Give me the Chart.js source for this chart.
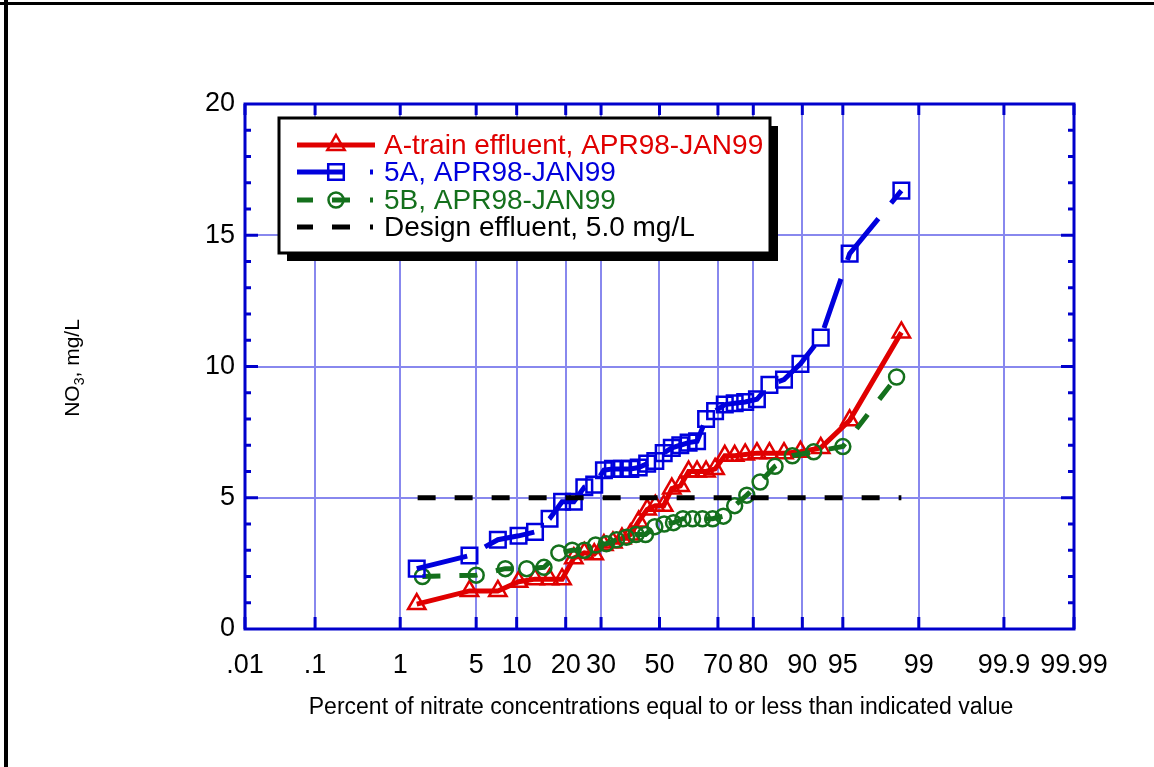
<!DOCTYPE html>
<html>
<head>
<meta charset="utf-8">
<script src="https://cdn.jsdelivr.net/npm/chart.js@4/dist/chart.umd.min.js"></script>
<style>
  html, body { margin: 0; padding: 0; background: #fff; }
  #wrap { width: 1154px; height: 767px; position: relative; }
</style>
</head>
<body>
<div id="wrap"><canvas id="myChart" width="1154" height="767"></canvas></div>
<script>
// Probability axis: tick positions (percent) and their labels
const pctTicks = [0.01, 0.1, 1, 5, 10, 20, 30, 50, 70, 80, 90, 95, 99, 99.9, 99.99];
const pctLabels = ['.01', '.1', '1', '5', '10', '20', '30', '50', '70', '80', '90', '95', '99', '99.9', '99.99'];
const yTicks = [0, 5, 10, 15, 20];

// A-train effluent (percent, NO3 mg/L)
const aTrainPct = [1.47, 4.41, 7.35, 10.3, 13.2, 16.2, 19.1, 22.1, 25.0, 27.9, 30.9, 33.8, 36.8, 39.7, 42.6, 45.6, 48.5,
  51.5, 54.4, 57.4, 60.3, 63.2, 66.2, 69.1, 72.1, 75.0, 77.9, 80.9, 83.8, 86.8, 89.7, 92.6, 95.6, 98.5];
const aTrainVal = [0.95, 1.45, 1.45, 1.8, 1.9, 1.9, 1.9, 2.7, 2.9, 2.85, 3.2, 3.3, 3.45, 3.6, 4.1, 4.55, 4.7,
  4.7, 5.35, 5.45, 6.0, 6.0, 6.0, 6.1, 6.6, 6.6, 6.65, 6.7, 6.7, 6.7, 6.75, 6.9, 7.95, 11.3];

// 5A
const s5aPct = [1.47, 4.41, 7.35, 10.3, 13.2, 16.2, 19.1, 22.1, 25.0, 27.9, 30.9, 33.8, 36.8, 39.7, 42.6, 45.6, 48.5,
  51.5, 54.4, 57.4, 60.3, 63.2, 66.2, 69.1, 72.1, 75.0, 77.9, 80.9, 83.8, 86.8, 89.7, 92.6, 95.6, 98.5];
const s5aVal = [2.3, 2.8, 3.4, 3.55, 3.7, 4.2, 4.85, 4.85, 5.4, 5.5, 6.05, 6.1, 6.1, 6.1, 6.15, 6.3, 6.4,
  6.7, 6.9, 7.0, 7.1, 7.15, 8.0, 8.3, 8.55, 8.6, 8.65, 8.75, 9.3, 9.5, 10.1, 11.1, 14.3, 16.7];

// 5B
const s5bPct = [1.67, 5, 8.33, 11.67, 15, 18.33, 21.67, 25, 28.33, 31.67, 35, 38.33, 41.67, 45, 48.33,
  51.67, 55, 58.33, 61.67, 65, 68.33, 71.67, 75, 78.33, 81.67, 85, 88.33, 91.67, 95, 98.33];
const s5bVal = [2.0, 2.05, 2.3, 2.3, 2.35, 2.9, 3.0, 3.0, 3.2, 3.25, 3.4, 3.5, 3.6, 3.6, 3.9,
  4.0, 4.05, 4.2, 4.2, 4.2, 4.2, 4.3, 4.7, 5.1, 5.6, 6.2, 6.6, 6.75, 6.95, 9.6];

// Design effluent
const designPct = [1.5, 98.5];
const designVal = [5.0, 5.0];

const RED = '#e00000', BLUE = '#0000dd', GREEN = '#14701c', AXIS = '#0000cc', GRID = '#8888ee';
const FONT = '"Liberation Sans", Arial, sans-serif';

// inverse of the normal cdf (Acklam)
function probit(p) {
    const a = [-39.69683028665376, 220.9460984245205, -275.9285104469687, 138.3577518672690, -30.66479806614716, 2.506628277459239];
    const b = [-54.47609879822406, 161.5858368580409, -155.6989798598866, 66.80131188771972, -13.28068155288572];
    const c = [-0.007784894002430293, -0.3223964580411365, -2.400758277161838, -2.549732539343734, 4.374664141464968, 2.938163982698783];
    const d = [0.007784695709041462, 0.3224671290700398, 2.445134137142996, 3.754408661907416];
    const pl = 0.02425;
    let q, r;
    if (p < pl) {
        q = Math.sqrt(-2 * Math.log(p));
        return (((((c[0]*q+c[1])*q+c[2])*q+c[3])*q+c[4])*q+c[5]) / ((((d[0]*q+d[1])*q+d[2])*q+d[3])*q+1);
    } else if (p <= 1 - pl) {
        q = p - 0.5; r = q * q;
        return (((((a[0]*r+a[1])*r+a[2])*r+a[3])*r+a[4])*r+a[5])*q / (((((b[0]*r+b[1])*r+b[2])*r+b[3])*r+b[4])*r+1);
    }
    q = Math.sqrt(-2 * Math.log(1 - p));
    return -(((((c[0]*q+c[1])*q+c[2])*q+c[3])*q+c[4])*q+c[5]) / ((((d[0]*q+d[1])*q+d[2])*q+d[3])*q+1);
}

function toPoints(pcts, vals) {
    return pcts.map((p, i) => ({ x: probit(p / 100), y: vals[i] }));
}

function marker(ctx, style, x, y, r) {
    ctx.beginPath();
    if (style === 'triangle') {
        ctx.moveTo(x, y - r);
        ctx.lineTo(x + 0.866 * r, y + 0.5 * r);
        ctx.lineTo(x - 0.866 * r, y + 0.5 * r);
        ctx.closePath();
    } else if (style === 'rect') {
        const s = Math.SQRT1_2 * r;
        ctx.rect(x - s, y - s, 2 * s, 2 * s);
    } else {
        ctx.arc(x, y, r, 0, Math.PI * 2);
    }
    ctx.stroke();
}

// frame, inward ticks, axis titles and the boxed legend
const decor = {
    id: 'decor',
    afterDraw(chart) {
        const ctx = chart.ctx;
        const ca = chart.chartArea;
        const xs = chart.scales.x, ys = chart.scales.y;
        ctx.save();

        // outer black frame (left and top)
        ctx.fillStyle = '#000';
        ctx.fillRect(4, 0, 4, 767);
        ctx.fillRect(0, 2, 1154, 3);

        // plot frame
        ctx.strokeStyle = AXIS;
        ctx.lineWidth = 3;
        ctx.strokeRect(ca.left, ca.top, ca.right - ca.left, ca.bottom - ca.top);

        // x ticks, inward at top and bottom
        pctTicks.forEach(p => {
            const px = xs.getPixelForValue(probit(p / 100));
            ctx.beginPath();
            ctx.moveTo(px, ca.bottom); ctx.lineTo(px, ca.bottom - 12);
            ctx.moveTo(px, ca.top); ctx.lineTo(px, ca.top + 11);
            ctx.stroke();
        });
        // y ticks, every unit, longer at 5
        for (let v = 1; v < 20; v++) {
            const py = ys.getPixelForValue(v);
            const len = v % 5 === 0 ? 13 : 6;
            ctx.beginPath();
            ctx.moveTo(ca.left, py); ctx.lineTo(ca.left + len, py);
            ctx.moveTo(ca.right, py); ctx.lineTo(ca.right - len, py);
            ctx.stroke();
        }

        // x title
        ctx.fillStyle = '#000';
        ctx.font = '23px ' + FONT;
        ctx.textAlign = 'center';
        ctx.textBaseline = 'alphabetic';
        ctx.fillText('Percent of nitrate concentrations equal to or less than indicated value', 661, 714);

        // y title, rotated, with subscript
        ctx.save();
        ctx.translate(79, 368);
        ctx.rotate(-Math.PI / 2);
        ctx.textAlign = 'left';
        const p1 = 'NO', p2 = '3', p3 = ', mg/L';
        ctx.font = '21px ' + FONT;
        const w1 = ctx.measureText(p1).width;
        const w3 = ctx.measureText(p3).width;
        ctx.font = '14px ' + FONT;
        const w2 = ctx.measureText(p2).width;
        const start = -(w1 + w2 + w3) / 2;
        ctx.font = '21px ' + FONT;
        ctx.fillText(p1, start, 0);
        ctx.font = '14px ' + FONT;
        ctx.fillText(p2, start + w1, 5);
        ctx.font = '21px ' + FONT;
        ctx.fillText(p3, start + w1 + w2, 0);
        ctx.restore();

        // legend box with shadow
        const bx = 279, by = 118, bw = 491, bh = 135;
        ctx.fillStyle = '#000';
        ctx.fillRect(bx + 8, by + 8, bw, bh);
        ctx.fillStyle = '#fff';
        ctx.fillRect(bx, by, bw, bh);
        ctx.strokeStyle = '#000';
        ctx.lineWidth = 3;
        ctx.strokeRect(bx, by, bw, bh);

        const rows = [
            { text: 'A-train effluent, APR98-JAN99', color: RED, dash: [], style: 'triangle', r: 10, y: 145 },
            { text: '5A, APR98-JAN99', color: BLUE, dash: [48, 25, 3, 25], style: 'rect', r: 11, y: 172 },
            { text: '5B, APR98-JAN99', color: GREEN, dash: [16, 19, 18, 20, 3, 20], style: 'circle', r: 7.5, y: 200 },
            { text: 'Design effluent, 5.0 mg/L', color: '#000', dash: [16, 19, 18, 20, 3, 20], style: null, y: 227 }
        ];
        ctx.font = '28px ' + FONT;
        ctx.textAlign = 'left';
        ctx.textBaseline = 'middle';
        rows.forEach(row => {
            ctx.strokeStyle = row.color;
            ctx.lineWidth = 5;
            ctx.setLineDash(row.dash);
            ctx.beginPath();
            ctx.moveTo(297, row.y); ctx.lineTo(375, row.y);
            ctx.stroke();
            ctx.setLineDash([]);
            if (row.style) {
                ctx.lineWidth = 2.5;
                marker(ctx, row.style, 336, row.y, row.r);
            }
            ctx.fillStyle = row.color;
            ctx.fillText(row.text, 384, row.y + 1);
        });
        ctx.restore();
    }
};

const ctx = document.getElementById('myChart').getContext('2d');
const myChart = new Chart(ctx, {
    type: 'scatter',
    data: {
        datasets: [
            {
                label: 'Design effluent, 5.0 mg/L',
                data: toPoints(designPct, designVal),
                showLine: true,
                borderColor: '#000',
                borderWidth: 5,
                borderDash: [18, 19],
                pointRadius: 0,
                order: 0
            },
            {
                label: '5A, APR98-JAN99',
                data: toPoints(s5aPct, s5aVal),
                showLine: true,
                borderColor: BLUE,
                borderWidth: 5,
                borderDash: [52, 20],
                pointStyle: 'rect',
                pointRadius: 11,
                pointBorderWidth: 2.5,
                pointBorderColor: BLUE,
                pointBackgroundColor: 'rgba(0,0,0,0)',
                order: 1
            },
            {
                label: '5B, APR98-JAN99',
                data: toPoints(s5bPct, s5bVal),
                showLine: true,
                borderColor: GREEN,
                borderWidth: 5,
                borderDash: [18, 19],
                pointStyle: 'circle',
                pointRadius: 7.5,
                pointBorderWidth: 2.5,
                pointBorderColor: GREEN,
                pointBackgroundColor: 'rgba(0,0,0,0)',
                order: 2
            },
            {
                label: 'A-train effluent, APR98-JAN99',
                data: toPoints(aTrainPct, aTrainVal),
                showLine: true,
                borderColor: RED,
                borderWidth: 5,
                pointStyle: 'triangle',
                pointRadius: 10,
                pointBorderWidth: 2.5,
                pointBorderColor: RED,
                pointBackgroundColor: 'rgba(0,0,0,0)',
                order: 3
            }
        ]
    },
    options: {
        responsive: false,
        animation: false,
        devicePixelRatio: 1,
        layout: { padding: { left: 0, top: 104, right: 80, bottom: 0 } },
        plugins: {
            legend: { display: false },
            tooltip: { enabled: false }
        },
        scales: {
            x: {
                type: 'linear',
                min: probit(0.0001),
                max: probit(0.9999),
                afterBuildTicks: scale => {
                    scale.ticks = pctTicks.map(p => ({ value: probit(p / 100) }));
                },
                afterFit: scale => { scale.height = 138; },
                ticks: {
                    autoSkip: false,
                    maxRotation: 0,
                    padding: 20,
                    color: '#000',
                    font: { family: FONT, size: 27 },
                    callback: (value, index) => pctLabels[index]
                },
                grid: { color: GRID, lineWidth: 2, drawTicks: false },
                border: { display: false }
            },
            y: {
                min: 0,
                max: 20,
                afterBuildTicks: scale => {
                    scale.ticks = yTicks.map(v => ({ value: v }));
                },
                afterFit: scale => { scale.width = 245; },
                ticks: {
                    padding: 10,
                    color: '#000',
                    font: { family: FONT, size: 27 }
                },
                grid: { color: GRID, lineWidth: 2, drawTicks: false },
                border: { display: false }
            }
        }
    },
    plugins: [decor]
});
</script>
</body>
</html>
